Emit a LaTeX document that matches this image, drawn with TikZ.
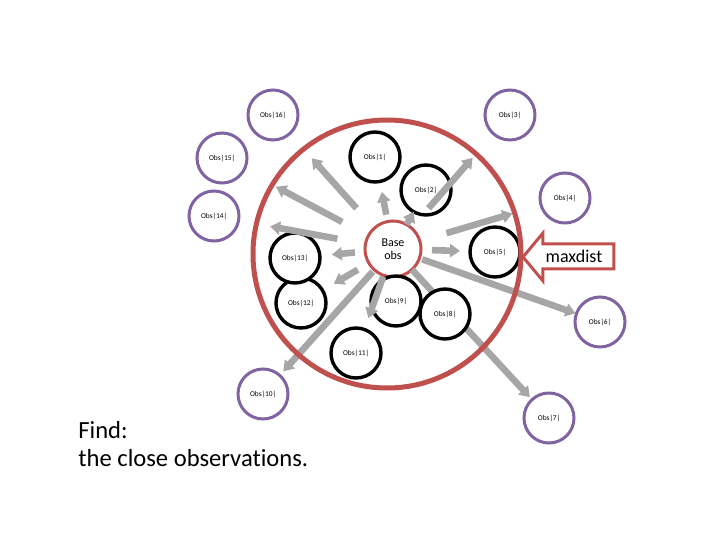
\documentclass[tikz,border=0pt]{standalone}
\usepackage{fontspec}
\setmainfont{Carlito}[Ligatures=NoCommon]
\usetikzlibrary{arrows.meta, calc}

\definecolor{ringred}{RGB}{192,80,77}
\definecolor{obspurple}{RGB}{128,100,162}
\definecolor{arrgray}{RGB}{166,166,166}

\begin{document}
\begin{tikzpicture}[x=0.5pt, y=-0.5pt,
    obs/.style={circle, draw=black, line width=1.7pt, fill=white, minimum size=25pt,
        inner sep=0pt, outer sep=0pt, font=\fontsize{3.7}{4}\selectfont},
    far/.style={obs, draw=obspurple, line width=1.5pt},
    arr/.style={-{Triangle[width=6.5pt, length=5pt]}, line width=3.3pt, draw=arrgray}]

    \useasboundingbox (0,0) rectangle (720,540);

    % 1. Środek okręgu maxdist i jego promień
    \coordinate (srodek) at (387,254);
    \def\R{67pt}

    % 2. DALEKIE OBSERWACJE (poza okręgiem)
    \node[far] (o16) at (273,115) {Obs|16|};
    \node[far] (o15) at (222,158) {Obs|15|};
    \node[far] (o14) at (214,216) {Obs|14|};
    \node[far] (o3)  at (510,115) {Obs|3|};
    \node[far] (o4)  at (565,198) {Obs|4|};
    \node[far] (o6)  at (600,322) {Obs|6|};
    \node[far] (o7)  at (549,418) {Obs|7|};
    \node[far] (o10) at (263,394) {Obs|10|};

    % Obserwacja bazowa
    \node[circle, draw=ringred, line width=1.5pt, fill=white, minimum size=28pt,
        inner sep=0pt, outer sep=0pt, align=center,
        font=\fontsize{6}{6.6}\selectfont] (base) at (393,249) {Base\\obs};

    % strzałka do Obs|7| idzie pod Obs|8|
    \draw[arr, shorten >=1.6pt] (base) -- (o7);

    % 3. BLISKIE OBSERWACJE (wewnątrz okręgu)
    \node[obs] (o1)  at (375,157) {Obs|1|};
    \node[obs] (o2)  at (426,190) {Obs|2|};
    \node[obs] (o5)  at (495,252) {Obs|5|};
    \node[obs] (o8)  at (445,314) {Obs|8|};
    \node[obs] (o9)  at (396,301) {Obs|9|};
    \node[obs] (o11) at (356,353) {Obs|11|};
    \node[obs] (o12) at (301,303) {Obs|12|};
    \node[obs] (o13) at (295,258) {Obs|13|};

    % 4. STRZAŁKI ODLEGŁOŚCI
    \draw[arr, shorten <=13.3pt, shorten >=16.5pt] (base) -- (o16);
    \draw[arr, shorten <=14.8pt, shorten >=18.1pt] (base) -- (o15);
    \draw[arr, shorten <=14.3pt, shorten >=16pt] (base) -- (o14);
    \draw[arr, shorten <=5.1pt, shorten >=6pt] (base) -- (o13);
    \draw[arr, shorten <=6.4pt, shorten >=6.5pt] (base) -- (o12);
    \draw[arr, shorten <=1.2pt, shorten >=2.7pt] (base) -- (o10);
    \draw[arr, shorten <=0.7pt, shorten >=6pt] (base) -- (o11);
    \draw[arr, shorten <=1.5pt, shorten >=0.5pt] (base) -- (o6);
    \draw[arr, shorten <=5.5pt, shorten >=5pt] (base) -- (o5);
    \draw[arr, shorten <=13.9pt, shorten >=14.9pt] (base) -- (o4);
    \draw[arr, shorten <=13pt, shorten >=15.9pt] (base) -- (o3);
    \draw[arr] (base) -- (o2);
    \draw[arr, shorten <=3.5pt, shorten >=5.3pt] (base) -- (o1);

    % 5. OKRĄG maxdist
    \draw[ringred, line width=2.5pt] (srodek) circle (\R);

    % 6. STRZAŁKA maxdist
    \draw[ringred, line width=1.5pt, fill=white]
        (523,257) -- (543,233) -- (543,244) -- (614,244)
        -- (614,269) -- (543,269) -- (543,281) -- cycle;
    \node[font=\fontsize{9}{10}\selectfont] (maxdist) at (574,256) {maxdist};

    % 7. OPIS ZADANIA
    \node[anchor=north west, inner sep=0pt, align=left,
        font=\fontsize{12.3}{14}\selectfont] (zadanie) at (78,421)
        {Find:\\the close observations.};

\end{tikzpicture}
\end{document}
